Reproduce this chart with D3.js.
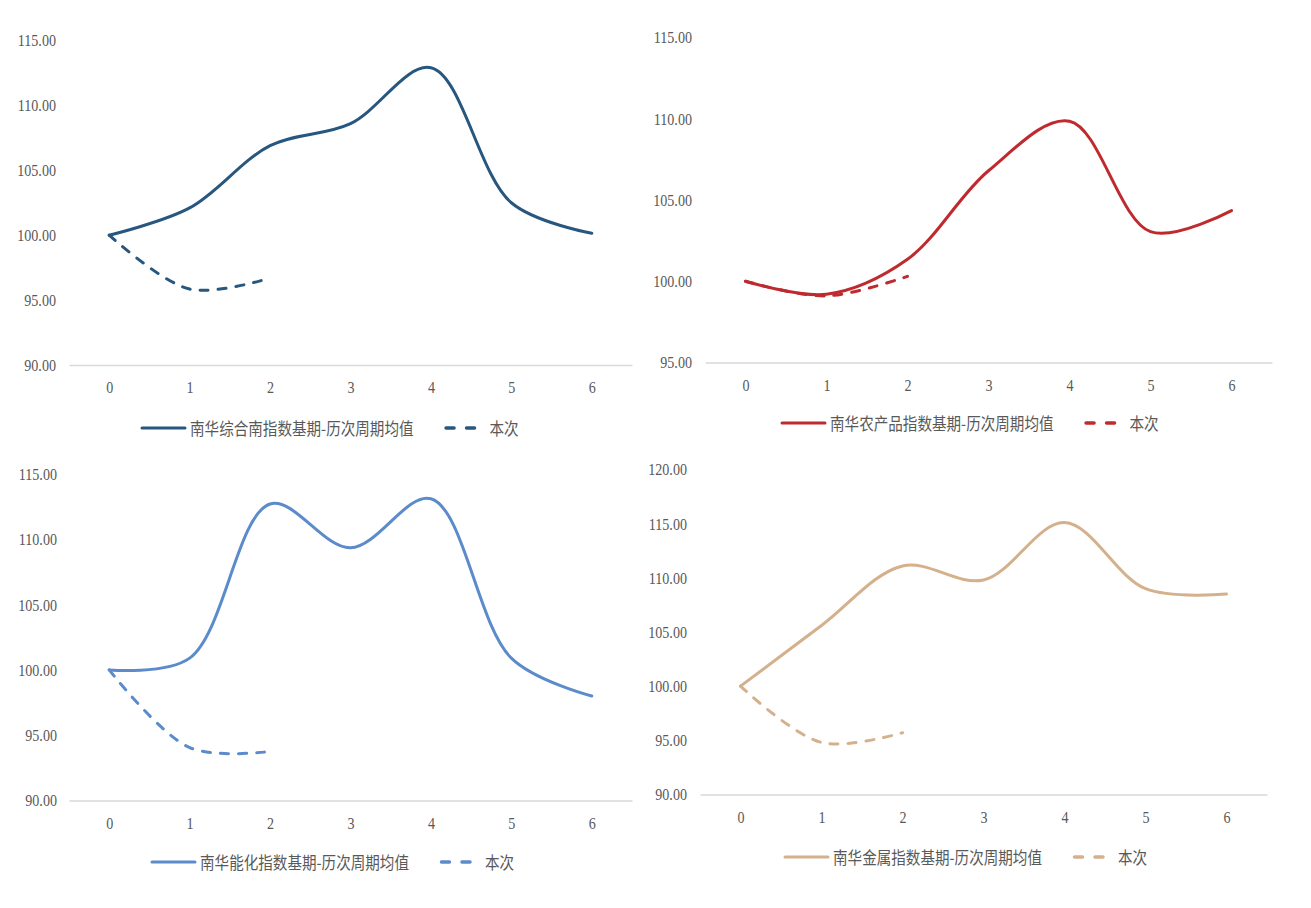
<!DOCTYPE html>
<html>
<head>
<meta charset="utf-8">
<script src="https://cdn.jsdelivr.net/npm/d3@7"></script>
<style>
  body { margin: 0; background: #fff; }
  svg { display: block; }
</style>
</head>
<body>
<svg id="chart" width="1311" height="908"></svg>
<script>
// Periods after the base date (x categories)
const periods = [0, 1, 2, 3, 4, 5, 6];

// 南华综合指数
const compositeAvg = [100, 102.1, 106.9, 108.6, 112.9, 102.5, 100.15];
const compositeNow = [100, 95.85, 96.7];
// 南华农产品指数
const agriAvg = [100, 99.2, 101.35, 106.8, 109.85, 103.05, 104.35];
const agriNow = [100, 99.1, 100.3];
// 南华能化指数
const energyAvg = [100, 100.9, 112.7, 109.35, 113.1, 100.9, 98.0];
const energyNow = [100, 94.05, 93.75];
// 南华金属指数
const metalAvg = [100, 105.6, 111.1, 109.8, 115.1, 109.0, 108.5];
const metalNow = [100, 94.8, 95.7];

// Y tick values per panel
const compositeTicks = [90, 95, 100, 105, 110, 115];
const agriTicks = [95, 100, 105, 110, 115];
const energyTicks = [90, 95, 100, 105, 110, 115];
const metalTicks = [90, 95, 100, 105, 110, 115, 120];

// Legend labels
const compositeName = "南华综合南指数基期-历次周期均值";
const agriName = "南华农产品指数基期-历次周期均值";
const energyName = "南华能化指数基期-历次周期均值";
const metalName = "南华金属指数基期-历次周期均值";
const currentName = "本次";

// Panel layout and styling
const panels = [
  { avg: compositeAvg, now: compositeNow, ticks: compositeTicks, name: compositeName,
    color: "#27567F", x0: 69, x1: 632, yB: 365, yT: 40.5, labelRight: 56, legendX: 142, legendY: 428 },
  { avg: agriAvg, now: agriNow, ticks: agriTicks, name: agriName,
    color: "#BF2A2F", x0: 705, x1: 1272, yB: 362.5, yT: 37.5, labelRight: 692, legendX: 782, legendY: 423 },
  { avg: energyAvg, now: energyNow, ticks: energyTicks, name: energyName,
    color: "#5B8BCA", x0: 69, x1: 632, yB: 800.5, yT: 474, labelRight: 57, legendX: 152, legendY: 862 },
  { avg: metalAvg, now: metalNow, ticks: metalTicks, name: metalName,
    color: "#D4B08C", x0: 700, x1: 1267, yB: 794.5, yT: 469.5, labelRight: 687, legendX: 785, legendY: 857 }
];

const svg = d3.select("#chart");
const numFont = "'Liberation Serif', 'Times New Roman', serif";
const cjkFont = "'Noto Sans CJK SC', 'Noto Sans', sans-serif";
const textColor = "#595959";
const numScale = 0.83;   // condensed numerals
const cjkScale = 0.857;  // condensed legend text

panels.forEach(p => {
  const g = svg.append("g");
  const x = d3.scalePoint().domain(periods).range([p.x0, p.x1]).padding(0.5);
  const y = d3.scaleLinear().domain([p.ticks[0], p.ticks[p.ticks.length - 1]]).range([p.yB, p.yT]);

  // Y axis labels (no axis line)
  const yAxis = g.append("g")
    .attr("transform", `translate(${p.labelRight},0)`)
    .call(d3.axisLeft(y).tickValues(p.ticks).tickSize(0).tickPadding(0).tickFormat(d3.format(".2f")));
  yAxis.select(".domain").remove();
  yAxis.selectAll("text")
    .attr("font-family", numFont).attr("font-size", 17).attr("fill", textColor)
    .attr("transform", `scale(${numScale},1)`);

  // X axis with baseline
  const xAxis = g.append("g")
    .attr("transform", `translate(0,${p.yB})`)
    .call(d3.axisBottom(x).tickSize(0).tickSizeOuter(0).tickPadding(16));
  xAxis.select(".domain").attr("stroke", "#D9D9D9").attr("stroke-width", 1.3);
  xAxis.selectAll("text")
    .attr("font-family", numFont).attr("font-size", 17).attr("fill", textColor)
    .attr("transform", `scale(${numScale},1)`);

  const line = d3.line()
    .x((d, i) => x(periods[i]))
    .y(d => y(d))
    .curve(d3.curveCatmullRom.alpha(0.5));

  // Historical average (solid)
  g.append("path").datum(p.avg)
    .attr("d", line).attr("fill", "none")
    .attr("stroke", p.color).attr("stroke-width", 3)
    .attr("stroke-linecap", "round").attr("stroke-linejoin", "round");

  // Current cycle (dashed)
  g.append("path").datum(p.now)
    .attr("d", line).attr("fill", "none")
    .attr("stroke", p.color).attr("stroke-width", 3)
    .attr("stroke-dasharray", "8,10")
    .attr("stroke-linecap", "round");

  // Legend
  const lg = g.append("g").attr("transform", `translate(${p.legendX},${p.legendY})`);
  lg.append("line").attr("x1", 0).attr("x2", 43).attr("y1", 0).attr("y2", 0)
    .attr("stroke", p.color).attr("stroke-width", 3).attr("stroke-linecap", "round");
  const t1 = lg.append("text")
    .attr("x", 48 / cjkScale).attr("y", 0)
    .attr("dominant-baseline", "central")
    .attr("font-family", cjkFont).attr("font-size", 17).attr("fill", textColor)
    .attr("transform", `scale(${cjkScale},1)`)
    .text(p.name);
  const w1 = t1.node().getComputedTextLength() * cjkScale;
  const dx = 48 + w1 + 31;
  lg.append("line").attr("x1", dx + 1.5).attr("x2", dx + 34).attr("y1", 0).attr("y2", 0)
    .attr("stroke", p.color).attr("stroke-width", 3.5)
    .attr("stroke-dasharray", "8,12.5").attr("stroke-linecap", "round");
  lg.append("text")
    .attr("x", (dx + 45) / cjkScale).attr("y", 0)
    .attr("dominant-baseline", "central")
    .attr("font-family", cjkFont).attr("font-size", 17).attr("fill", textColor)
    .attr("transform", `scale(${cjkScale},1)`)
    .text(currentName);
});
</script>
</body>
</html>
